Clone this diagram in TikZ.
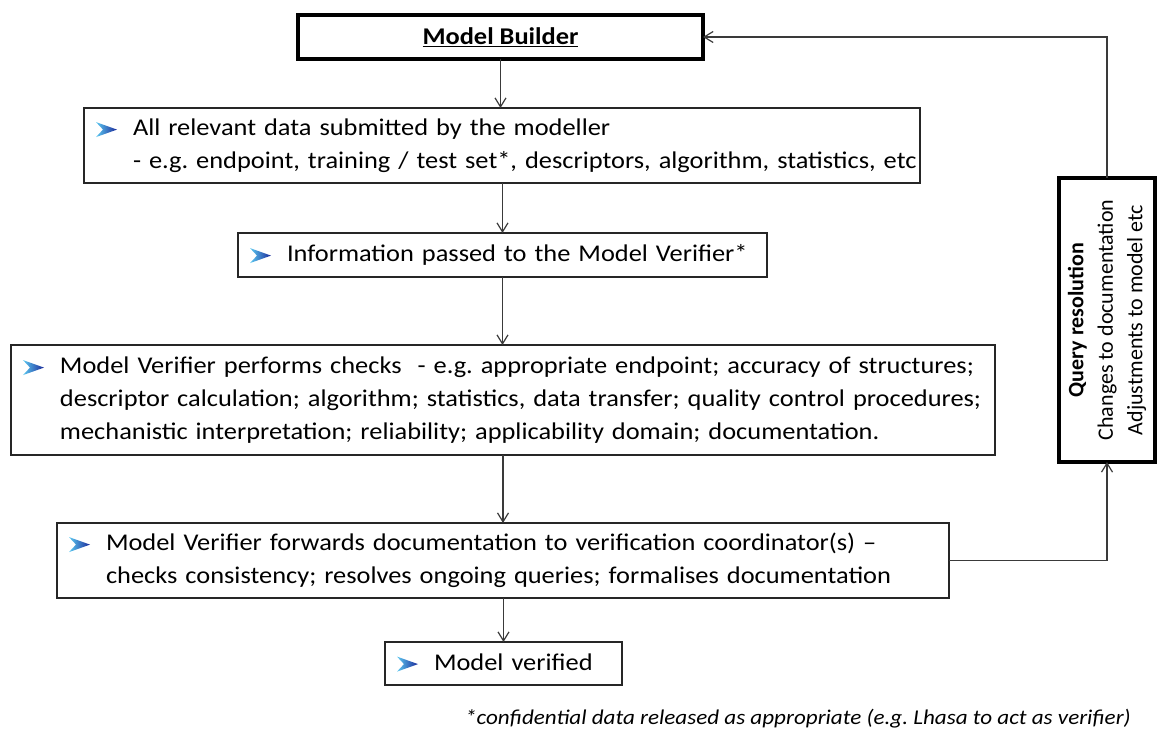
\documentclass[tikz,border=0pt]{standalone}
\usepackage{fontspec}
\setmainfont{Carlito}[FakeStretch=1.1]
\newfontfamily\uprightcarlito{Carlito}
\usetikzlibrary{arrows.meta}

\definecolor{chevlight}{HTML}{5CC8F0}
\definecolor{chevdark}{HTML}{1B2A9A}
\definecolor{wire}{HTML}{3A3A3A}

% gradient chevron used as the bullet of every step
\newcommand{\chev}{\tikz[baseline={(0,-6)},x=1pt,y=1pt]
  \shade[left color=chevlight,right color=chevdark]
  (0,7.5) -- (21,0) -- (0,-7.5) -- (7,0) -- cycle;}
% bullet followed by one or more lines, continuation lines hang under the first
\newcommand{\steptext}[1]{\begin{tabular}{@{}l@{\hspace{16pt}}l@{}}\chev & #1\end{tabular}}

\begin{document}
\frenchspacing
\begin{tikzpicture}[x=1pt,y=1pt,
  stepbox/.style={draw=black!85,line width=1.1pt,anchor=north west,
    inner xsep=12pt,inner ysep=0pt,outer sep=0pt,align=left,
    font=\fontsize{24}{33}\selectfont},
  heavybox/.style={draw=black,line width=4pt,inner sep=0pt,outer sep=0pt,align=center},
  arr/.style={draw=wire,line width=1.2pt,-{Straight Barb[length=9pt,width=11pt,line width=1.2pt]}}]

\useasboundingbox (0,0) rectangle (1160,-731);

% process steps
\node[heavybox,anchor=north west,minimum width=405pt,minimum height=44pt,
  font=\fontsize{24}{29}\selectfont]
  (mb) at (298,-15) {\textbf{\underline{Model Builder}}};

\node[stepbox,text width=812pt,minimum height=75pt] (b2) at (84,-108)
  {\steptext{All relevant data submitted by the modeller\\
   & - e.g. endpoint, training / test set*, descriptors, algorithm, statistics, etc}};

\node[stepbox,text width=505pt,minimum height=44pt] (b3) at (238,-233)
  {\steptext{Information passed to the Model Verifier*}};

\node[stepbox,text width=960pt,minimum height=110pt] (b4) at (11,-345)
  {\steptext{Model Verifier performs checks \ - e.g. appropriate endpoint; accuracy of structures;\\
   & descriptor calculation; algorithm; statistics, data transfer; quality control procedures;\\
   & mechanistic interpretation; reliability; applicability domain; documentation.}};

\node[stepbox,text width=868pt,minimum height=75pt] (b5) at (57,-523)
  {\steptext{Model Verifier forwards documentation to verification coordinator(s) –\\
   & checks consistency; resolves ongoing queries; formalises documentation}};

\node[stepbox,text width=213pt,minimum height=43pt] (b6) at (385,-642)
  {\steptext{Model verified}};

% feedback loop
\node[heavybox,rotate=90,minimum width=284pt,minimum height=96pt,
  font=\uprightcarlito\fontsize{22}{29.5}\selectfont]
  (qr) at (1107,-320)
  {\textbf{Query resolution}\\Changes to documentation\\Adjustments to model etc};

\node[anchor=base east,inner sep=0pt,font=\fontsize{21}{24}\selectfont\itshape]
  (note) at (1131,-724)
  {*confidential data released as appropriate (e.g. Lhasa to act as verifier)};

% connectors
\draw[arr] (mb.south) -- (mb.south |- b2.north);
\draw[arr] (b3.north |- b2.south) -- (b3.north);
\draw[arr] (b3.south) -- (b3.south |- b4.north);
\draw[arr] (b5.north |- b4.south) -- (b5.north);
\draw[arr] (b6.north |- b5.south) -- (b6.north);
\draw[arr] (b5.east) -| (qr.west);
\draw[arr] (qr.east) |- (mb.east);
\end{tikzpicture}
\end{document}
